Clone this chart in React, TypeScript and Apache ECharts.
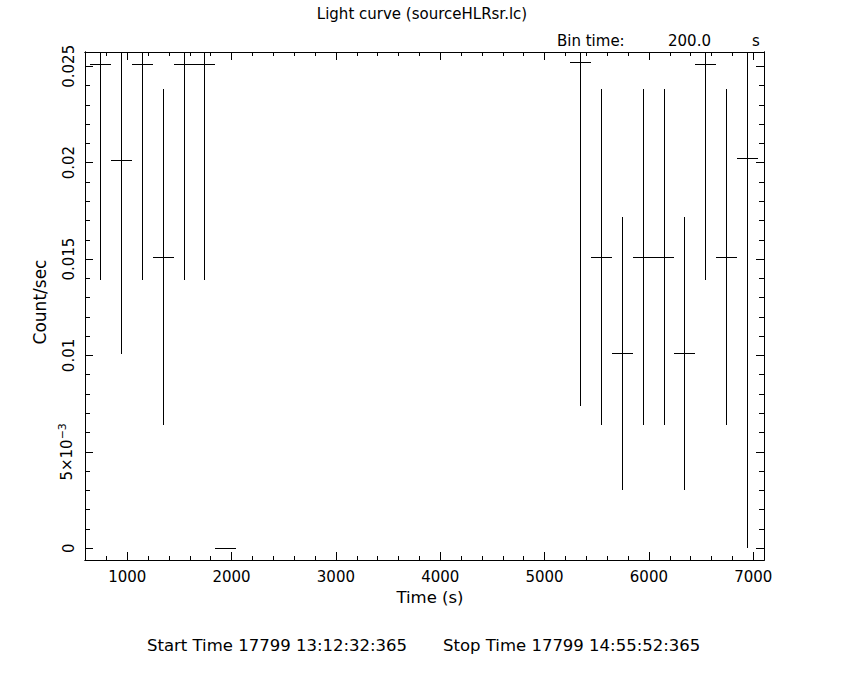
import React, { useEffect, useRef } from "react";
import * as echarts from "echarts";

// ---- data ----
const binCentres = [745, 945, 1145, 1345, 1545, 1745, 1945, 5345, 5545, 5745, 5945, 6145, 6345, 6545, 6745, 6945];
const countRates = [0.0251, 0.0201, 0.0251, 0.0151, 0.0251, 0.0251, 0, 0.0252, 0.0151, 0.0101, 0.0151, 0.0151, 0.0101, 0.0251, 0.0151, 0.0202];
const rateErrors = [0.0112, 0.0100, 0.0112, 0.0087, 0.0112, 0.0112, 0, 0.0178, 0.0087, 0.0071, 0.0087, 0.0087, 0.0071, 0.0112, 0.0087, 0.0202];
const binHalfWidth = 100;

const xMajorTicks = [1000, 2000, 3000, 4000, 5000, 6000, 7000];
const xMajorLabels = ["1000", "2000", "3000", "4000", "5000", "6000", "7000"];
const xMinorTicks = [600, 800, 1200, 1400, 1600, 1800, 2200, 2400, 2600, 2800, 3200, 3400, 3600, 3800, 4200, 4400, 4600, 4800, 5200, 5400, 5600, 5800, 6200, 6400, 6600, 6800];
const yMajorTicks = [0, 0.005, 0.01, 0.015, 0.02, 0.025];
const yMajorLabels = ["0", "{a|5×10}{s|−3}", "0.01", "0.015", "0.02", "0.025"];
const yMinorTicks = [0.001, 0.002, 0.003, 0.004, 0.006, 0.007, 0.008, 0.009, 0.011, 0.012, 0.013, 0.014, 0.016, 0.017, 0.018, 0.019, 0.021, 0.022, 0.023, 0.024];

const xRange = [595, 7103];
const yRange = [-0.00061, 0.02574];

const titleText = "Light curve (sourceHLRsr.lc)";
const binTimeLabel = "Bin time:";
const binTimeValue = "200.0";
const binTimeUnit = "s";
const xName = "Time (s)";
const yName = "Count/sec";
const startText = "Start Time 17799 13:12:32:365";
const stopText = "Stop Time 17799 14:55:52:365";

const FONT = "'DejaVu Sans', sans-serif";
const FS = 15;

function nearestLabel(v: number, ticks: number[], labels: string[]) {
  let best = 0;
  for (let i = 1; i < ticks.length; i++) {
    if (Math.abs(ticks[i] - v) < Math.abs(ticks[best] - v)) best = i;
  }
  return labels[best];
}

export default function App() {
  const ref = useRef<HTMLDivElement>(null);

  useEffect(() => {
    if (!ref.current) return;
    const chart = echarts.init(ref.current, null, { renderer: "svg" });

    const lineStyle = { color: "#000", width: 1 };
    const baseX = (position: "top" | "bottom", ticks: number[], len: number, labels: boolean) => ({
      type: "value",
      position,
      min: xRange[0],
      max: xRange[1],
      axisLine: { show: true, onZero: false, lineStyle },
      axisTick: { show: true, inside: true, length: len, customValues: ticks, lineStyle },
      axisLabel: labels
        ? {
            show: true,
            customValues: ticks,
            margin: 9,
            color: "#000",
            fontSize: FS,
            fontFamily: FONT,
            formatter: (v: number) => nearestLabel(v, xMajorTicks, xMajorLabels),
          }
        : { show: false },
      splitLine: { show: false },
    });
    const baseY = (position: "left" | "right", ticks: number[], len: number, labels: boolean) => ({
      type: "value",
      position,
      min: yRange[0],
      max: yRange[1],
      axisLine: { show: true, onZero: false, lineStyle },
      axisTick: { show: true, inside: true, length: len, customValues: ticks, lineStyle },
      axisLabel: labels
        ? {
            show: true,
            customValues: ticks,
            rotate: 90,
            margin: 9,
            color: "#000",
            fontSize: FS,
            fontFamily: FONT,
            formatter: (v: number) => nearestLabel(v, yMajorTicks, yMajorLabels),
            rich: {
              a: { fontSize: FS, fontFamily: FONT, color: "#000" },
              s: { fontSize: 11, fontFamily: FONT, color: "#000", padding: [0, 0, 8, 0] },
            },
          }
        : { show: false },
      splitLine: { show: false },
    });

    const data = binCentres.map((t, i) => [t, countRates[i], rateErrors[i]]);

    chart.setOption({
      animation: false,
      backgroundColor: "#fff",
      grid: { left: 85, right: 86, top: 52, bottom: 120, containLabel: false },
      xAxis: [
        baseX("bottom", xMajorTicks, 8, true),
        baseX("bottom", xMinorTicks, 4, false),
        baseX("top", xMajorTicks, 8, false),
        baseX("top", xMinorTicks, 4, false),
      ],
      yAxis: [
        baseY("left", yMajorTicks, 8, true),
        baseY("left", yMinorTicks, 5, false),
        baseY("right", yMajorTicks, 8, false),
        baseY("right", yMinorTicks, 5, false),
      ],
      series: [
        {
          type: "custom",
          xAxisIndex: 0,
          yAxisIndex: 0,
          clip: false,
          z: 10,
          encode: { x: 0, y: 1 },
          data,
          renderItem: (params: any, api: any) => {
            const cs = params.coordSys;
            const gTop = cs.y;
            const gBot = cs.y + cs.height;
            const gL = cs.x;
            const gR = cs.x + cs.width;
            const x = api.value(0);
            const y = api.value(1);
            const e = api.value(2);
            const top = api.coord([x, y + e]);
            const bot = api.coord([x, y - e]);
            const l = api.coord([x - binHalfWidth, y]);
            const r = api.coord([x + binHalfWidth, y]);
            const hx = Math.max(gL, Math.round(l[0]));
            const hx2 = Math.min(gR, Math.round(r[0]));
            const vy = Math.max(gTop, Math.round(top[1]));
            const vy2 = Math.min(gBot, Math.round(bot[1]));
            return {
              type: "group",
              children: [
                {
                  type: "rect",
                  shape: { x: hx, y: Math.floor(l[1]), width: Math.max(1, hx2 - hx), height: 1 },
                  style: { fill: "#000" },
                },
                {
                  type: "rect",
                  shape: { x: Math.floor(top[0]), y: vy, width: 1, height: Math.max(1, vy2 - vy) },
                  style: { fill: "#000" },
                },
              ],
            };
          },
        },
      ],
      graphic: [
        { type: "text", x: 422, y: 14, style: { text: titleText, fill: "#000", font: `${FS}px ${FONT}`, align: "center", verticalAlign: "middle" } },
        { type: "text", x: 557, y: 41, style: { text: binTimeLabel, fill: "#000", font: `${FS}px ${FONT}`, align: "left", verticalAlign: "middle" } },
        { type: "text", x: 668, y: 41, style: { text: binTimeValue, fill: "#000", font: `${FS}px ${FONT}`, align: "left", verticalAlign: "middle" } },
        { type: "text", x: 752, y: 41, style: { text: binTimeUnit, fill: "#000", font: `${FS}px ${FONT}`, align: "left", verticalAlign: "middle" } },
        { type: "text", x: 430, y: 597, style: { text: xName, fill: "#000", font: `16.5px ${FONT}`, align: "center", verticalAlign: "middle" } },
        { type: "text", x: 40, y: 302, rotation: Math.PI / 2, style: { text: yName, fill: "#000", font: `17px ${FONT}`, align: "center", verticalAlign: "middle" } },
        { type: "text", x: 147, y: 645, style: { text: startText, fill: "#000", font: `16.5px ${FONT}`, align: "left", verticalAlign: "middle" } },
        { type: "text", x: 443, y: 645, style: { text: stopText, fill: "#000", font: `16.5px ${FONT}`, align: "left", verticalAlign: "middle" } },
      ],
    });

    return () => chart.dispose();
  }, []);

  return (
    <div
      ref={ref}
      style={{ position: "fixed", left: 0, top: 0, width: 850, height: 680, background: "#fff" }}
    />
  );
}
